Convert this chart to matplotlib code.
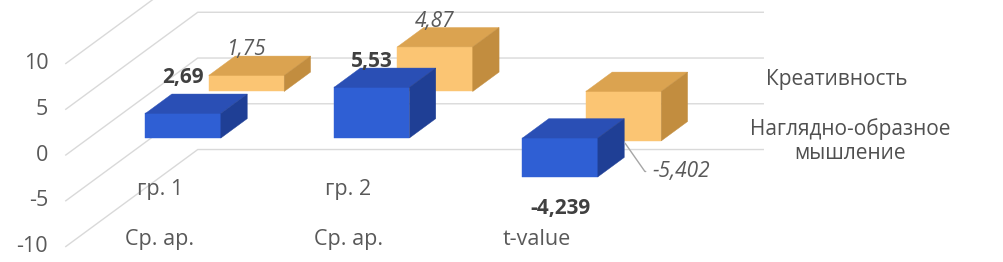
import matplotlib.pyplot as plt
from matplotlib.patches import Polygon
from matplotlib.transforms import blended_transform_factory

# ---------------------------------------------------------------------------
# Data
# ---------------------------------------------------------------------------
cat_level1 = ["гр. 1", "гр. 2", ""]
cat_level2 = ["Ср. ар.", "Ср. ар.", "t-value"]
series_names = ["Креативность", "Наглядно-образное\nмышление"]
creativity = [1.75, 4.87, -5.402]
visual_thinking = [2.69, 5.53, -4.239]
creativity_text = ["1,75", "4,87", "-5,402"]
visual_text = ["2,69", "5,53", "-4,239"]
y_ticks = [-10, -5, 0, 5, 10]

# ---------------------------------------------------------------------------
# Fake Excel-style 3D (oblique projection)
# ---------------------------------------------------------------------------
DX, DY = 0.70, 10.6        # screen shift for one unit of depth
HALF_W = 0.2               # half bar width (category units)
THICK = 0.2                # bar depth
D_FRONT = 0.175            # depth of front row (blue)
D_BACK = 0.655             # depth of back row (orange)
X_MIN, X_MAX = -0.5, 2.5
GRID = "#d9d9d9"
TXT = "#595959"

BLUE = ("#2f5fd4", "#2a4fb5", "#1f3f95")      # front, top, side
ORANGE = ("#fbc573", "#dba350", "#c28d3f")


def proj(x, v, d):
    return (x + DX * d, v + DY * d)


def draw_box(ax, i, v, d0, colors):
    x0, x1 = i - HALF_W, i + HALF_W
    d1 = d0 + THICK
    lo, hi = min(0, v), max(0, v)
    front = [proj(x0, lo, d0), proj(x1, lo, d0), proj(x1, hi, d0), proj(x0, hi, d0)]
    top = [proj(x0, hi, d0), proj(x1, hi, d0), proj(x1, hi, d1), proj(x0, hi, d1)]
    side = [proj(x1, lo, d0), proj(x1, lo, d1), proj(x1, hi, d1), proj(x1, hi, d0)]
    for poly, c in zip((front, top, side), colors):
        ax.add_patch(Polygon(poly, closed=True, facecolor=c, edgecolor=c, lw=0.3))


plt.rcParams['font.family'] = ['Open Sans', 'DejaVu Sans']

fig = plt.figure(figsize=(10.04, 2.62), dpi=100)
ax = fig.add_axes([0, 0, 1, 1])
ax.set_xlim(-0.849, 4.477)
ax.set_ylim(-11.69, 16.94)
ax.axis("off")

# walls
for t in y_ticks:
    xa, ya = proj(X_MIN, t, 0)
    xb, yb = proj(X_MIN, t, 1)
    xc, yc = proj(X_MAX, t, 1)
    ax.plot([xa, xb, xc], [ya, yb, yc], color=GRID, lw=1.0, zorder=1)
    ax.text(0.048, t, str(t), transform=blended_transform_factory(ax.transAxes, ax.transData),
            ha="right", va="center", fontsize=15.5, color=TXT)

# bars: back row first
for i, v in enumerate(creativity):
    draw_box(ax, i, v, D_BACK, ORANGE)
for i, v in enumerate(visual_thinking):
    draw_box(ax, i, v, D_FRONT, BLUE)

# data labels
visual_offsets = [(0, 4), (0, -3), (0, -15)]
for i, (v, s) in enumerate(zip(visual_thinking, visual_text)):
    if v >= 0:
        xy = (proj(i, v, D_FRONT)[0], proj(i, v, D_FRONT + THICK)[1])
        va = "bottom"
    else:
        xy = proj(i, v, D_FRONT)
        va = "top"
    ax.annotate(s, xy, xytext=visual_offsets[i], textcoords="offset points",
                ha="center", va=va, fontsize=15, fontweight="bold", color="#404040")

for i, (v, s) in enumerate(zip(creativity, creativity_text)):
    if v >= 0:
        xy = (proj(i, v, D_BACK)[0], proj(i, v, D_BACK + THICK)[1])
        ax.annotate(s, xy, xytext=(0, -3), textcoords="offset points",
                    ha="center", va="bottom", fontsize=15, style="italic", color=TXT)
    else:
        xy = proj(i, v, D_BACK)
        ax.annotate(s, xy, xytext=(21, -22), textcoords="offset points",
                    ha="left", va="center", fontsize=15, style="italic", color=TXT,
                    arrowprops=dict(arrowstyle="-", color="#a6a6a6", lw=1.0,
                                    relpos=(0, 0.5), shrinkA=3, shrinkB=2,
                                    connectionstyle="angle,angleA=0,angleB=125"))

# category labels (two levels)
cat_tr = blended_transform_factory(ax.transData, ax.transAxes)
for i, (a, b) in enumerate(zip(cat_level1, cat_level2)):
    ax.text(i, 0.275, a, transform=cat_tr, ha="center", va="center", fontsize=15.5, color=TXT)
    ax.text(i, 0.084, b, transform=cat_tr, ha="center", va="center", fontsize=15.5, color=TXT)

# legend (text only)
ax.text(0.833, 0.695, series_names[0], transform=ax.transAxes, ha="center", va="center",
        fontsize=15, color="#505050")
ax.text(0.847, 0.462, series_names[1], transform=ax.transAxes, ha="center", va="center",
        fontsize=15, color="#505050", linespacing=1.2)

fig.savefig("out.png", dpi=100)
